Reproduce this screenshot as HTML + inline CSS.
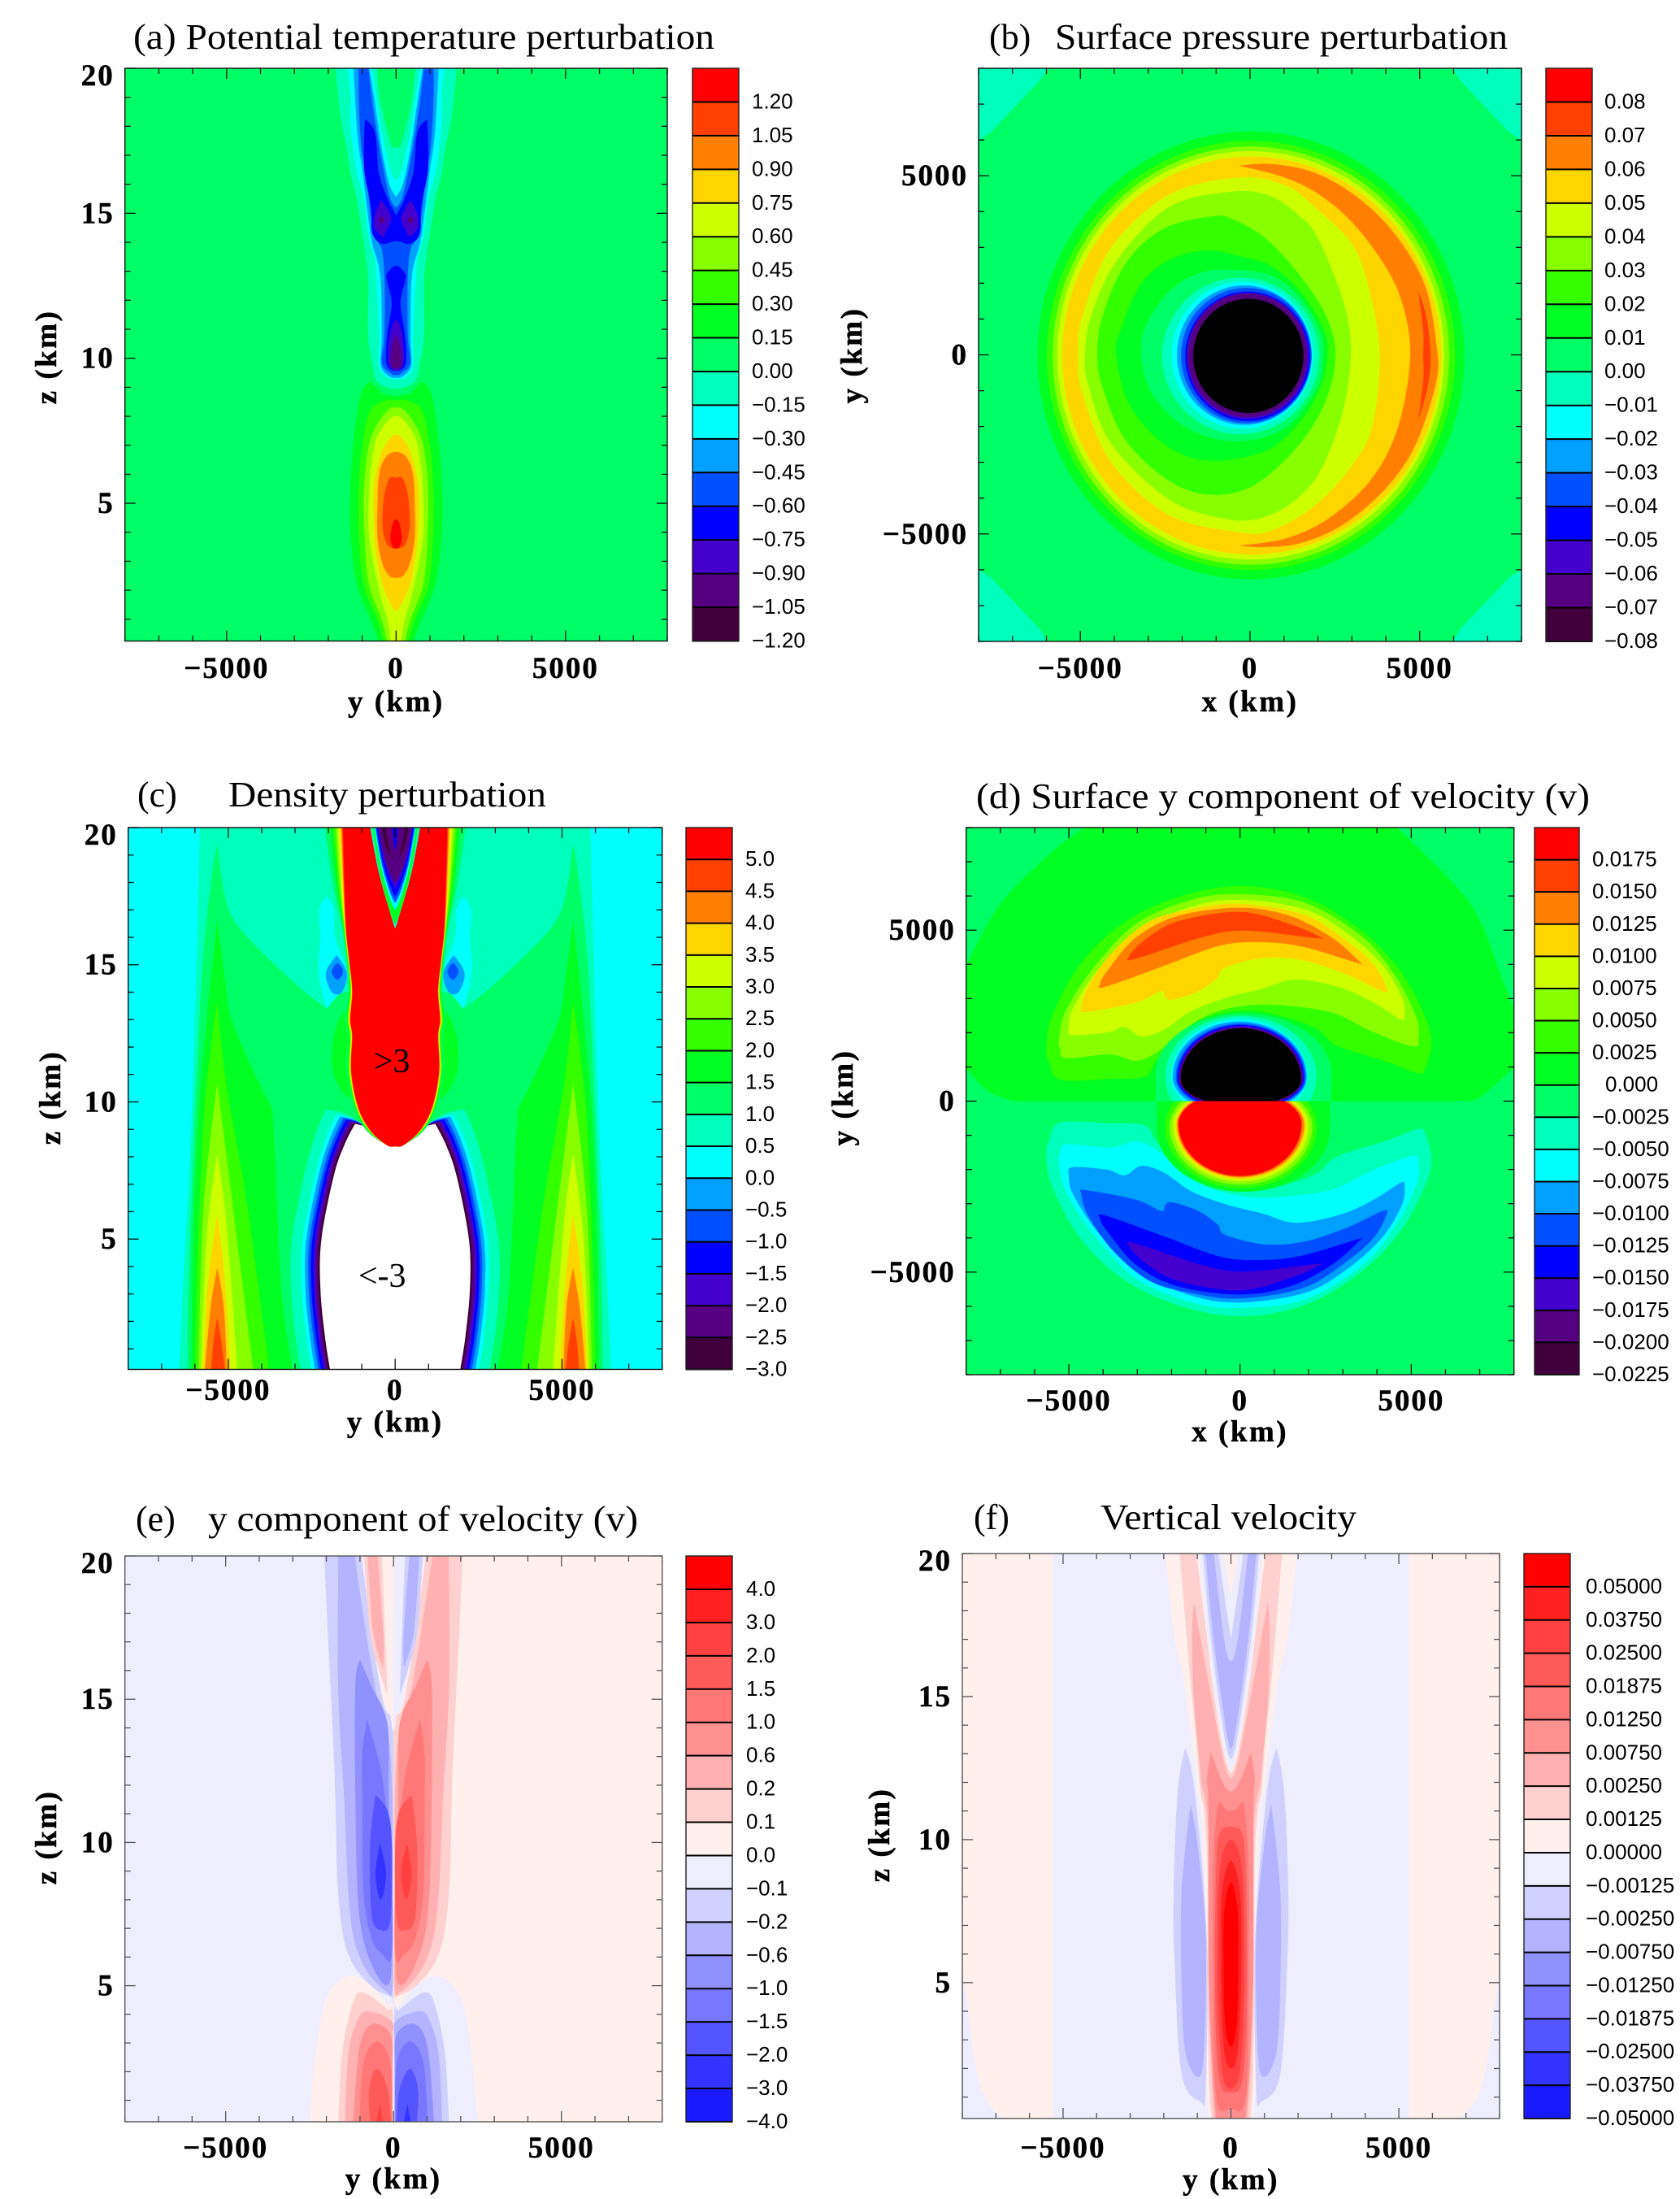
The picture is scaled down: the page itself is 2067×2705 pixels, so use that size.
<!DOCTYPE html>
<html lang="en">
<head>
<meta charset="utf-8">
<title>Contour panels</title>
<style>
html,body{margin:0;padding:0;background:#fff}
svg{display:block}
.ttl{font-family:"Liberation Serif",serif;font-size:44px;fill:#000}
.tick{font-family:"Liberation Serif",serif;font-weight:bold;font-size:37px;letter-spacing:2px;fill:#000;stroke:#000;stroke-width:.5px}
.axt{font-family:"Liberation Serif",serif;font-weight:bold;font-size:37px;letter-spacing:2.5px;fill:#000;stroke:#000;stroke-width:.5px}
.cbl{font-family:"Liberation Sans",sans-serif;font-size:26px;fill:#000}
.note{font-family:"Liberation Serif",serif;font-size:42px;fill:#000}
</style>
</head>
<body>
<svg id="fig" xmlns="http://www.w3.org/2000/svg" width="2067" height="2705" viewBox="0 0 2067 2705">
<rect width="2067" height="2705" fill="#fff"/>
<defs id="defs"></defs>
<g id="marks"></g>
<text class="ttl" x="164" y="60" textLength="715" lengthAdjust="spacingAndGlyphs">(a) Potential temperature perturbation</text>
<text class="ttl" x="1217" y="60">(b)</text>
<text class="ttl" x="1298" y="60" textLength="557" lengthAdjust="spacingAndGlyphs">Surface pressure perturbation</text>
<text class="ttl" x="169" y="992">(c)</text>
<text class="ttl" x="281" y="992" textLength="391" lengthAdjust="spacingAndGlyphs">Density perturbation</text>
<text class="ttl" x="1201" y="994" textLength="755" lengthAdjust="spacingAndGlyphs">(d) Surface y component of velocity (v)</text>
<text class="ttl" x="167" y="1883">(e)</text>
<text class="ttl" x="256" y="1883" textLength="529" lengthAdjust="spacingAndGlyphs">y component of velocity (v)</text>
<text class="ttl" x="1198" y="1881">(f)</text>
<text class="ttl" x="1354" y="1881" textLength="315" lengthAdjust="spacingAndGlyphs">Vertical velocity</text>
</svg>
<script>
// ---------- colour levels (index 0 = top of colour bar) ----------
const rainbowLevels=['#ff0000','#ff4000','#ff8000','#ffd500','#ccff00','#88ff00','#33ff00','#00ff22','#00ff66','#00ffbb','#00ffff','#00a0ff','#0050ff','#0000ff','#4400cc','#550080','#40003c','#000000','#ffffff'];
const redBlueLevels=['#ff0000','#ff2020','#ff4040','#ff5a5a','#ff7777','#ff9090','#ffb0b0','#ffd0d0','#fff0ee','#eeeeff','#d0d0ff','#b3b3ff','#9090ff','#7777ff','#5555ff','#3333ff','#1a1aff'];

// ---------- colour bar labels ----------
const labelsA=['1.20','1.05','0.90','0.75','0.60','0.45','0.30','0.15','0.00','−0.15','−0.30','−0.45','−0.60','−0.75','−0.90','−1.05','−1.20'];
const labelsB=['0.08','0.07','0.06','0.05','0.04','0.03','0.02','0.01','0.00','−0.01','−0.02','−0.03','−0.04','−0.05','−0.06','−0.07','−0.08'];
const labelsC=['5.0','4.5','4.0','3.5','3.0','2.5','2.0','1.5','1.0','0.5','0.0','−0.5','−1.0','−1.5','−2.0','−2.5','−3.0'];
const labelsD=['0.0175','0.0150','0.0125','0.0100','0.0075','0.0050','0.0025','0.000','−0.0025','−0.0050','−0.0075','−0.0100','−0.0125','−0.0150','−0.0175','−0.0200','−0.0225'];
const labelsE=['4.0','3.0','2.0','1.5','1.0','0.6','0.2','0.1','0.0','−0.1','−0.2','−0.6','−1.0','−1.5','−2.0','−3.0','−4.0'];
const labelsF=['0.05000','0.03750','0.02500','0.01875','0.01250','0.00750','0.00250','0.00125','0.00000','−0.00125','−0.00250','−0.00750','−0.01250','−0.01875','−0.02500','−0.03750','−0.05000'];

// ---------- axis ticks ----------
const horizontalMajorTicks=[-5000,0,5000];
const horizontalMinorTicks=[-8000,-7000,-6000,-4000,-3000,-2000,-1000,1000,2000,3000,4000,6000,7000,8000];
const heightMajorTicks=[5,10,15,20];
const heightMinorTicks=[1,2,3,4,6,7,8,9,11,12,13,14,16,17,18,19];

// ---------- filled contours, in data units. [mode, level, points]; point = [horizontal km, vertical km, corner?]
// m: half outline mirrored about 0; t: closed outline + mirror twin; c: closed outline; a: antisymmetric pair
const contoursA=[
['m',7,[[0,8.7],[400,8.78],[536,8.95],[780,9.2,1],[1056,8.7],[1260,7.06],[1355,5.45],[1340,3.84],[1165,2.23],[740,.95],[470,.1],[0,.1]]],
['m',6,[[0,8.55],[300,8.55],[760,8.2],[1000,7],[1100,5.5],[1090,3.8],[960,2.2],[560,1],[340,.1],[0,.1]]],
['m',5,[[0,8.3],[200,8.25],[520,7.8],[800,7],[945,5.5],[930,3.8],[800,2.2],[430,1],[240,.1],[0,.1]]],
['m',4,[[0,8],[150,7.95],[400,7.6],[640,7],[790,5.5],[790,3.8],[500,2],[260,1],[130,.1],[0,.1]]],
['m',3,[[0,7.38],[270,7.1],[500,6.5],[660,5.5],[640,3.8],[430,2.3],[150,1.5],[0,1.27,1]]],
['m',2,[[0,6.77],[300,6.6],[500,6],[550,5],[550,3.8],[400,2.9],[200,2.5],[0,2.43]]],
['m',1,[[0,5.88],[200,5.85],[360,5.2],[400,4.2],[280,3.6],[100,3.45],[0,3.44]]],
['m',0,[[0,4.45],[100,4.3],[170,3.8],[100,3.5],[0,3.44]]],
['m',9,[[0,8.95],[544,9.19],[704,9.84],[824,10.78],[824,12.64],[904,13.58],[1024,14.51],[1184,15.63],[1344,16.38],[1464,17.31],[1624,18.24],[1840,20.5],[600,20.5],[480,19],[300,18],[130,17.27,1],[0,17.27]]],
['m',10,[[0,9.28],[304,9.37],[504,9.75],[504,10.78],[584,12.64],[624,13.39],[824,14.3],[944,15.44],[1184,16.56],[1344,18.06],[1344,19.18],[1504,20.5],[780,20.5],[600,19.2],[420,17.8],[250,16.9],[120,16.35],[0,16.14,1]]],
['m',11,[[0,9.33],[184,9.37],[448,9.75],[424,10.78],[464,12.83],[704,13.95],[824,14.88],[984,16.38],[1144,17.78],[1280,20.5],[856,20.5],[650,19],[420,17.2],[200,16],[0,15.58,1]]],
['m',12,[[0,9.42],[144,9.47],[424,9.84],[344,10.78],[344,12.83],[424,13.76],[544,14.04],[744,14.88],[864,16.19],[1024,17.31],[1104,19],[1096,20.5],[856,20.5],[700,18.8],[480,17.2],[200,15.6],[0,15.2,1]]],
['m',13,[[0,14.04],[424,13.95],[704,14.32],[744,15.26],[944,16.56],[920,18.24,1],[624,17.78],[504,16.38],[224,15.44],[0,14.93,1]]],
['m',13,[[0,9.56],[280,9.8],[264,10.78],[128,11.9],[264,12.64],[264,12.92],[0,13.2]]],
['t',14,[[424,15.45,1],[620,15],[640,14.5],[400,14.2],[290,14.4],[144,14.85]]],
['t',15,[[424,14.92,1],[530,14.77,1],[424,14.62,1],[318,14.77,1]]],
['m',14,[[0,11.33],[184,10.78],[224,9.84],[0,9.56]]],
['m',15,[[0,10.78],[144,10.2],[144,9.75],[0,9.65]]]
];

const contoursB=[
['p',8,[[-5900,8100],[5900,8100],[6200,7650],[7650,6200],[8100,5950],[8100,-5950],[7650,-6200],[6200,-7650],[5900,-8100],[-5900,-8100],[-6200,-7650],[-7650,-6200],[-8100,-5950],[-8100,5950],[-7650,6200],[-6200,7650]]],
['e',7,25,-15,6295,6255],['e',6,28,-15,6018,5995],['e',5,25,-22,5845,5842],['e',4,20,-15,5705,5705],['e',3,47,-20,5588,5560],
['c',2,[[-325,5275,1],[615,5330],[1900,5085],[3180,4390],[4290,3345],[5150,1955],[5490,300],[5490,-740],[4890,-2480],[4035,-3690],[2750,-4735],[1470,-5260],[360,-5370],[-325,-5320,1],[1040,-5130],[2325,-4560],[3610,-3430],[4380,-1955],[4720,0],[4460,1520],[3865,2650],[2925,3780],[1900,4560],[870,5000]]],
['c',1,[[4960,1765,1],[5190,1085],[5320,0],[5230,-910],[4960,-1825,1],[5105,-700],[5105,0],[5105,650]]],
['c',4,[[-5070,0],[-4940,1085],[-4090,3000],[-2380,4475],[-325,4950],[1040,4735],[1900,4130],[3010,3085],[3520,1780],[3820,0],[3610,-1955],[3010,-3085],[1900,-4215],[615,-4910],[-325,-4950],[-2380,-4475],[-4090,-3000],[-4940,-1085]]],
['c',5,[[-4860,0],[-4685,1085],[-3915,2650],[-2380,4130],[-500,4560],[615,4430],[1470,3870],[1900,3430],[2410,2390],[2840,1170],[2970,0],[2750,-1520],[2155,-3085],[1470,-3950],[445,-4520],[-670,-4590],[-2380,-4040],[-4090,-2480],[-4770,-825]]],
['c',6,[[-4500,0],[-4345,1085],[-3660,2560],[-2550,3520],[-1095,3870],[-500,3780],[445,3260],[1470,2215],[2240,1085],[2520,0],[2240,-1260],[1470,-2480],[190,-3600],[-1095,-3910],[-2380,-3520],[-3660,-2390],[-4345,-910]]],
['c',7,[[-3940,0],[-3830,650],[-3230,1955],[-2380,2650],[-1265,2910],[-240,2740],[615,2480],[1470,1780],[2155,740],[2280,0],[2070,-910],[1470,-1870],[445,-2690],[-1265,-2950],[-2550,-2480],[-3575,-1350]]],
['c',8,[[-3205,0],[-3060,825],[-2380,1780],[-1435,2300],[-410,2370],[615,2215],[1470,1610],[2070,650],[2155,0],[1985,-910],[1040,-2040],[-410,-2415],[-1865,-2040],[-2890,-1085]]],
['e',9,-280,-30,2310,2185],['e',10,-225,-10,2085,2050],['e',11,-170,-8,1985,1948],['e',12,-110,-20,1925,1890],['e',13,-70,-40,1840,1808],['e',14,-70,-30,1800,1765],['e',15,-70,-15,1755,1725],['e',17,-50,-30,1625,1595]
];

// density panel parts
const densitySpreadRows=[[9.75,1090,.25],[11.07,1310,.25],[12.4,1280,.25],[13,1340,.3],[14.03,1280,.22],[15.02,1360,.15],[16.3,1470,.2],[18,1520,.6],[20.5,1570,1]];
const densityBands=[[8,590],[7,430],[6,320],[5,240],[4,175],[3,110],[2,60],[1,30],[0,0]];
const densityNotch=[[800,20.5],[750,20],[480,18.3],[80,16.6],[0,16.33,1]];
const densityHollow=[[0,8.4],[240,8.42],[720,8.93],[900,9.1],[1200,9.2,1],[1520,8.44],[1840,7.3],[2210,5],[2240,3.2],[2110,1.5],[1950,.25],[1900,.1],[0,.1]];
const densityHaloSpread=[[9,880],[10,560],[11,450],[12,350],[13,270],[14,190],[15,130],[16,60],[18,0]];
const densityNotchLevels=[[7,16.5,720],[10,17,670],[12,17.25,640],[13,17.5,610],[14,17.8,580],[15,18,550],[16,18.7,470]];
const contoursC1=[
['m',9,[[0,20.5],[5840,20.5],[6080,10],[6370,3],[6480,.1],[0,.1]]],
['m',8,[[0,14],[1500,14],[2050,13.4,1],[3040,14.36],[4640,16.3],[5100,17.5],[5330,19.42,1],[5520,17.98],[5790,14.7],[6050,8],[6200,3],[6220,.1],[0,.1]]],
['t',7,[[6110,.1],[6050,5],[5900,9.5],[5650,13],[5330,16.63,1],[5100,14.5],[4900,13],[4200,11],[3680,9.75,1],[3600,8],[3400,3],[3050,.1]]],
['t',6,[[6000,.1],[5900,5],[5700,10],[5330,13.67,1],[5100,11],[4900,9.5],[4400,6],[3760,.1]]],
['t',5,[[5890,.1],[5750,6],[5330,10.66,1],[5050,8],[4240,.1]]],
['t',4,[[5820,.1],[5650,5],[5330,8.08,1],[5050,5.5],[4720,.1]]],
['t',3,[[5760,.1],[5600,3.5],[5330,5.89,1],[5100,3.5],[4930,.1]]],
['t',2,[[5710,.1],[5530,2.5],[5330,3.95,1],[5130,2.5],[5040,.1]]],
['t',1,[[5520,.1],[5450,1.2],[5330,2.14,1],[5200,1.2],[5090,.1]]],
['t',10,[[1500,14.3],[2050,13.4,1],[2240,14.3],[2300,15],[2240,16],[2280,17],[2050,17.5,1],[1830,17],[1800,16],[1500,15]]],
['t',11,[[1440,14.7],[1750,15.35,1],[2080,14.7],[1900,14],[1600,14]]],
['t',12,[[1730,15.05],[1900,14.75],[1730,14.45],[1560,14.75]]],
['t',7,[[1300,10.2],[1840,11],[1840,12.4],[1500,13.3],[1300,12.6]]]
];
const contoursC3=[
['m',15,[[0,18.6],[240,19.6],[330,20.5],[0,20.5]]],
['m',13,[[0,19.2],[120,20.5],[0,20.5]]]
];

const contoursD1=[
['c',7,[[-4380,8100,1],[4410,8100,1],[5000,7600],[6770,5700],[7700,3460],[8100,2400,1],[8100,1080,1],[7080,160],[6610,0,1],[-6580,0,1],[-7360,290],[-8100,1080,1],[-8100,3720,1],[-7050,5700],[-5480,7300]]]
];
// lobes: [upper level, lower level, points in the upper half; the lower half reflects them]
const lobesD=[
[6,9,[[-5657,1536],[-5494,2487],[-4676,3990],[-3450,5180],[-1815,5970],[0,6290],[1864,5970],[3500,5020],[4725,3750],[5460,2330],[5584,1615],[5420,982],[5215,808],[4316,1140],[2845,1615],[2270,2090],[1455,2410],[230,2645],[-1080,2410],[-1900,1850],[-2470,1140],[-2800,705],[-3860,650],[-5250,625],[-5575,1140]]],
[5,10,[[-5290,1775],[-5085,2645],[-4270,3910],[-3040,5180],[-1406,5890],[0,6050],[1864,5810],[3500,4860],[4480,3750],[5134,2490],[5215,1853],[5052,1600],[3908,2010],[2763,2566],[1620,2764],[474,2820],[-589,2645],[-1406,2250],[-2387,1457],[-3041,1180],[-3777,1362],[-5085,1260],[-5250,1536]]],
[4,11,[[-5003,2170],[-4840,2800],[-4022,3990],[-2878,5020],[-1406,5695],[0,5890],[1864,5615],[3090,4940],[4153,3990],[4725,3040],[4807,2490],[4684,2390],[3908,2880],[2927,3320],[1620,3556],[638,3280],[-343,3040],[-1406,2645],[-2224,2090],[-2878,1893],[-3370,2170],[-3860,2010],[-4880,1930]]],
[3,12,[[-4635,2725],[-4430,3358],[-3695,4390],[-2632,5260],[-1406,5615],[0,5775],[1864,5457],[3090,4705],[3908,3990],[4275,3318],[4153,3215],[3090,3715],[1864,4110],[720,4190],[-425,3912],[-670,3596],[-1243,3200],[-1978,2962],[-2183,3041],[-2305,3215],[-3041,2883],[-4513,2605]]],
[2,13,[[-4088,3437],[-3859,3833],[-3041,4784],[-1815,5417],[0,5655],[1455,5417],[2681,4784],[3499,4071],[3458,4031],[1864,4506],[638,4649],[-589,4546],[-2224,3952],[-3940,3342]]],
[1,14,[[-3245,4229],[-2796,4704],[-1815,5259],[0,5536],[1455,5180],[2338,4800],[2191,4768],[229,4982],[-997,4823],[-3041,4166]]]
];
// half discs at y = 0: [level, centre, half-width, height, direction, pinch at the base]
const discsD=[
[8,100,2575,2565,1,.15],[9,25,2205,2490,1,.5],[10,-20,1990,2400,1,.7],[11,-10,1960,2330,1,.8],[12,20,1900,2270,1,.85],[13,20,1850,2230,1,.9],[14,25,1820,2190,1,.95],[15,25,1795,2160,1,.95],[17,25,1760,2130,1,1],
[7,100,2530,2650,-1,.1],[6,25,2210,2550,-1,.6],[5,25,2085,2445,-1,.7],[4,25,1985,2350,-1,.75],[3,20,1900,2270,-1,.8],[2,15,1860,2230,-1,.82],[0,0,1800,2190,-1,.85]
];

const contoursE=[
['a',10,[[30,4.6],[150,4.65],[730,5.05],[1370,6.17],[1650,8.25],[1735,11.66],[1800,13.57],[1960,17.4],[2082,20.5],[1008,20.5],[670,17.4],[307,14.9],[105,14.43],[8,14.1],[8,4.6]]],
['a',11,[[30,5],[220,4.8],[890,5.7],[1290,7.45],[1476,11.66],[1654,15.48],[1638,20.5],[1218,20.5],[831,17.4],[427,14.7],[145,13.57],[40,11.66],[30,8]]],
['a',12,[[95,5.2],[570,5.53],[1020,7.45],[1138,11.66],[1138,15.48],[993,16.36,1],[670,15.48],[185,14.14],[145,11.66],[95,8]]],
['a',13,[[50,6.1],[330,6.1],[650,6.65],[890,8.25],[928,11.66],[928,13.1],[790,14.32,1],[428,12.8],[266,11.66],[80,9.5]]],
['a',14,[[95,7.3],[380,6.94],[650,7.45],[700,9.85],[540,11.65,1],[175,11.1],[48,9.85]]],
['a',15,[[220,8.9],[380,8],[540,8.9],[400,9.97,1]]],
['a',8,[[0,.1],[2510,.1],[2320,2.65],[2000,4.57],[1370,5.32],[730,5.05],[175,4.33],[0,4.1]]],
['a',7,[[20,.1],[1650,.1],[1530,2.65],[1210,4.4],[890,4.76],[175,4.17],[20,3.93]]],
['a',6,[[30,.1],[1450,.1],[1340,2.65],[1050,3.85],[730,4.1],[65,3.76],[30,3]]],
['a',5,[[40,.1],[1210,.1],[1020,2.8],[650,3.65],[95,3.3],[50,2]]],
['a',4,[[55,.1],[1020,.1],[890,2.3],[490,3.05],[95,2.3]]],
['a',3,[[80,.1],[680,.1],[730,1.37],[490,2.1],[175,1.37]]],
['a',2,[[290,.1],[540,.1],[410,.88,1]]],
['a',8,[[0,14.3],[105,14.48],[300,15],[640,17.4],[976,20.5],[0,20.5]]],
['a',7,[[363,20.5],[896,20.5],[710,17.4],[420,16],[186,15.15,1],[240,17]]],
['a',6,[[508,20.5],[790,20.5],[613,17.4],[306,16.1,1],[306,17.4]]]
];

const contoursF=[
['t',8,[[5300,20.5,1],[8100,20.5,1],[8100,8],[7800,3.75],[7400,1.16],[6600,.1,1],[5300,.1,1]]],
['m',8,[[0,.1],[640,.1],[720,1.5],[760,5],[770,8],[880,11],[985,11.7],[1073,12.6],[1396,15.45],[1720,17.34],[2000,20.5],[1000,20.5],[770,17.8],[530,15.45],[200,13.1],[0,12.4,1]]],
['t',10,[[1360,13.19,1],[1585,11.68],[1710,8.2],[1680,5.8],[1470,1.8],[912,.85],[750,1.3],[720,6.6],[1075,11.68]]],
['t',11,[[1200,11.23,1],[1470,8.2],[1470,5],[1360,2.6],[990,1.7],[800,2.6],[750,6.6],[990,9.8]]],
['m',7,[[0,.1],[560,.1],[650,1.5],[700,5],[700,9],[800,11],[912,11.7],[1033,13.57],[1235,15.9],[1557,20.5],[1090,20.5],[790,17.8],[549,15.45],[226,13.1],[0,12.3,1]]],
['m',6,[[0,.1],[480,.1],[580,2],[640,5],[640,9],[720,11],[880,12],[928,12.6],[1113,15],[1154,17.34],[1097,18.28,1],[952,17.34],[589,15],[185,12.6],[0,12.15,1]]],
['m',5,[[0,.1],[420,.1],[560,2],[660,5],[670,9],[670,11.4],[710,12.15],[590,13.05,1],[266,12.05],[0,11.68]]],
['m',4,[[0,.6],[360,.6],[500,2],[530,5],[530,9],[430,10.8],[350,11.3],[150,11.05],[0,11]]],
['m',3,[[0,1.17],[300,1.4],[440,3],[480,6],[420,9.5],[300,10.3],[0,10.45]]],
['m',2,[[0,1.3],[250,1.8],[380,4],[400,7],[300,9.2],[0,10]]],
['m',1,[[0,2],[200,2.6],[300,5],[280,8],[0,9.26]]],
['m',0,[[0,2.76],[170,3.5],[220,5.5],[200,7.5],[0,8.5]]],
['m',9,[[0,12.53,1],[185,13.1],[508,15.45],[750,17.8],[993,20.5],[0,20.5]]],
['m',10,[[0,12.8,1],[145,13.28],[428,15.45],[670,17.8],[872,20.5],[430,20.5],[250,19],[100,17.8],[0,17,1]]],
['m',11,[[0,13.14,1],[105,13.57],[347,15.45],[590,17.8],[790,20.5],[549,20.5],[347,18.3],[145,16.6],[0,16.23,1]]],
['m',8,[[0,18.47,1],[100,19.2],[270,20.5],[0,20.5]]]
];

// ---------- panel layout ----------
const panels=[
{id:'a',px:[153.7,821],py:[84,788.5],vr:[.25,20],heights:true,levels:rainbowLevels,labels:labelsA,bg:[[8]],cb:[852,909],cbl:925,xt:'y (km)',yt:'z (km)',xty:834,xtty:875,ytx:69,yty:439},
{id:'b',px:[1204,1872],py:[84,789],vr:[-8000,8000],heights:false,levels:rainbowLevels,labels:labelsB,bg:[[9]],cb:[1902,1959],cbl:1974,xt:'x (km)',yt:'y (km)',xty:834,xtty:875,ytx:1060,yty:437},
{id:'c',px:[157.7,814.7],py:[1018,1684.5],vr:[.25,20],heights:true,levels:rainbowLevels,labels:labelsC,bg:[[10]],cb:[844,901],cbl:917,xt:'y (km)',yt:'z (km)',xty:1722,xtty:1761,ytx:74,yty:1350},
{id:'d',px:[1188.7,1862.7],py:[1018,1691],vr:[-8000,8000],heights:false,levels:rainbowLevels,labels:labelsD,bg:[[8]],cb:[1888,1943],cbl:1959,xt:'x (km)',yt:'y (km)',xty:1735,xtty:1773,ytx:1049,yty:1350},
{id:'e',px:[153.7,814.7],py:[1914,2610],vr:[.25,20],heights:true,levels:redBlueLevels,labels:labelsE,bg:[[9],[8]],cb:[844,901],cbl:918,xt:'y (km)',yt:'z (km)',xty:2654,xtty:2692,ytx:69,yty:2260,grey:true},
{id:'f',px:[1184,1845],py:[1911,2606],vr:[.25,20],heights:true,levels:redBlueLevels,labels:labelsF,bg:[[9]],cb:[1875,1932],cbl:1951,xt:'y (km)',yt:'z (km)',xty:2654,xtty:2693,ytx:1094,yty:2257,grey:true}
];

// ---------- drawing ----------
const NS='http://www.w3.org/2000/svg';
const marks=document.getElementById('marks');
const defs=document.getElementById('defs');
function node(tag,parent,attrs,text){
  const n=document.createElementNS(NS,tag);
  for(const k in attrs)n.setAttribute(k,attrs[k]);
  if(text!==undefined)n.textContent=text;
  parent.appendChild(n);
  return n;
}
function smoothPath(p,straight){
  const n=p.length,k=1/6;
  let d='M'+p[0][0].toFixed(1)+' '+p[0][1].toFixed(1);
  for(let i=0;i<n;i++){
    const a=p[(i-1+n)%n],b=p[i],c=p[(i+1)%n],e=p[(i+2)%n];
    if(straight){d+='L'+c[0].toFixed(1)+' '+c[1].toFixed(1);continue;}
    const c1=b[2]?[b[0],b[1]]:[b[0]+(c[0]-a[0])*k,b[1]+(c[1]-a[1])*k];
    const c2=c[2]?[c[0],c[1]]:[c[0]-(e[0]-b[0])*k,c[1]-(e[1]-b[1])*k];
    d+='C'+c1[0].toFixed(1)+' '+c1[1].toFixed(1)+' '+c2[0].toFixed(1)+' '+c2[1].toFixed(1)+' '+c[0].toFixed(1)+' '+c[1].toFixed(1);
  }
  return d+'Z';
}
function scales(P){
  const sx=v=>P.px[0]+(v+8000)/16000*(P.px[1]-P.px[0]);
  const sy=v=>P.py[1]-(v-P.vr[0])/(P.vr[1]-P.vr[0])*(P.py[1]-P.py[0]);
  return {sx,sy};
}
function fillShape(g,P,level,pts,straight){
  const S=scales(P);
  const px=pts.map(q=>[S.sx(q[0]),S.sy(q[1]),q[2]||(P.heights&&(q[1]<=.1||q[1]>=20.5))]);
  const el=node('path',g,{d:smoothPath(px,straight),fill:P.levels[level]});
  
  
}
function mirrorHalf(pts){
  const back=pts.slice(1,-1).reverse().map(q=>[-q[0],q[1],q[2]]);
  return pts.concat(back);
}
function ellipsePoints(cx,cy,rx,ry){
  const out=[];
  for(let i=0;i<72;i++){const t=i/72*Math.PI*2;out.push([cx+rx*Math.cos(t),cy+ry*Math.sin(t)]);}
  return out;
}
function halfDiscPoints(cx,rx,ry,dir,neck){
  const out=[];
  for(let i=0;i<=60;i++){
    const t=i/60*Math.PI,u=Math.sin(t),side=Math.cos(t)>=0?1:-1;
    const w=u>=.3?Math.sqrt(Math.max(0,1-Math.pow((u-.3)/.7,2))):Math.sqrt(Math.max(0,1-Math.pow((.3-u)/.37*neck,2)));
    out.push([cx+side*rx*w,dir*ry*u]);
  }
  return out;
}
function drawContours(g,P,list){
  list.forEach(c=>{
    const mode=c[0],lev=c[1];
    if(mode==='m')fillShape(g,P,lev,mirrorHalf(c[2]));
    else if(mode==='t'){fillShape(g,P,lev,c[2]);fillShape(g,P,lev,c[2].map(q=>[-q[0],q[1],q[2]]));}
    else if(mode==='c')fillShape(g,P,lev,c[2]);
    else if(mode==='p')fillShape(g,P,lev,c[2],true);
    else if(mode==='a'){fillShape(g,P,lev,c[2].map(q=>[-q[0],q[1],q[2]]));fillShape(g,P,17-lev,c[2]);}
    else if(mode==='e')fillShape(g,P,lev,ellipsePoints(c[2],c[3],c[4],c[5]),true);
  });
}
function drawDensity(g,P){
  drawContours(g,P,contoursC1);
  densityHaloSpread.forEach(h=>{
    const off=h[1];
    const pts=densityHollow.map(q=>{
      const f=Math.min(1,q[0]/1200);
      const lift=q[1]>7?(q[1]-7)/2.2*off*.0006:0;
      return [q[0]+off*f,q[1]+lift,q[2]];
    });
    fillShape(g,P,h[0],mirrorHalf(pts));
  });
  densityBands.forEach(b=>{
    const off=b[1];
    const rows=densitySpreadRows.map(r=>[r[1]+off*r[2],r[0]]);
    const low=[[0,8.38],[240,8.42],[720+off*.2,8.93]];
    fillShape(g,P,b[0],mirrorHalf(low.concat(rows,densityNotch)));
  });
  densityNotchLevels.forEach(v=>{
    const tip=v[1],w=v[2],h=20-tip;
    fillShape(g,P,v[0],mirrorHalf([[0,tip,1],[w*.25,tip+h*.15],[w*.65,tip+h*.55],[w*1.02,20.5],[0,20.5]]));
  });
  drawContours(g,P,contoursC3);
}
function drawVelocitySurface(g,P){
  drawContours(g,P,contoursD1);
  lobesD.forEach(l=>{
    fillShape(g,P,l[0],l[2]);
    fillShape(g,P,l[1],l[2].map(q=>[q[0],-q[1],q[2]]));
  });
  discsD.forEach(h=>{fillShape(g,P,h[0],halfDiscPoints(h[1],h[2],h[3],h[4],h[5]),true);});
}
const painters={
  a:(g,P)=>drawContours(g,P,contoursA),
  b:(g,P)=>drawContours(g,P,contoursB),
  c:drawDensity,
  d:drawVelocitySurface,
  e:(g,P)=>drawContours(g,P,contoursE),
  f:(g,P)=>drawContours(g,P,contoursF)
};

panels.forEach(P=>{
  const S=scales(P);
  const W=P.px[1]-P.px[0],H=P.py[1]-P.py[0];
  const panel=node('g',marks,{});
  
  
  const cp=node('clipPath',defs,{id:'clip-'+P.id});
  node('rect',cp,{x:P.px[0],y:P.py[0],width:W,height:H});
  const field=node('g',panel,{'clip-path':'url(#clip-'+P.id+')'});
  
  
  // background level
  P.bg.forEach((b,i)=>{
    const half=P.bg.length>1;
    const r=node('rect',field,{x:half&&i?S.sx(0):P.px[0],y:P.py[0],width:half?W/2:W,height:H,fill:P.levels[b[0]]});
    
    
  });
  painters[P.id](field,P);

  // plot frame and ticks
  const col=P.grey?'#555':'#111';
  const frame=node('rect',panel,{x:P.px[0],y:P.py[0],width:W,height:H,fill:'none',stroke:col,'stroke-width':1.4});
  
  
  const tickGroup=node('g',panel,{stroke:col,'stroke-width':1.3});
  
  
  const hTick=(v,len)=>{
    node('line',tickGroup,{x1:S.sx(v),x2:S.sx(v),y1:P.py[1],y2:P.py[1]-len});
    node('line',tickGroup,{x1:S.sx(v),x2:S.sx(v),y1:P.py[0],y2:P.py[0]+len});
  };
  const vTick=(v,len)=>{
    node('line',tickGroup,{y1:S.sy(v),y2:S.sy(v),x1:P.px[0],x2:P.px[0]+len});
    node('line',tickGroup,{y1:S.sy(v),y2:S.sy(v),x1:P.px[1],x2:P.px[1]-len});
  };
  horizontalMinorTicks.forEach(v=>hTick(v,7));
  horizontalMajorTicks.forEach(v=>hTick(v,13));
  const vMinor=P.heights?heightMinorTicks:horizontalMinorTicks;
  const vMajor=P.heights?heightMajorTicks:horizontalMajorTicks;
  vMinor.forEach(v=>vTick(v,7));
  vMajor.forEach(v=>vTick(v,13));

  // tick labels
  horizontalMajorTicks.forEach(v=>{
    const t=node('text',panel,{class:'tick',x:S.sx(v),y:P.xty,'text-anchor':'middle'},String(v).replace('-','−'));
    
    
  });
  vMajor.forEach(v=>{
    const shift=v===20?9:0;
    const t=node('text',panel,{class:'tick',x:P.px[0]-13,y:S.sy(v)+12+shift,'text-anchor':'end'},String(v).replace('-','−'));
    
    
  });
  const xTitle=node('text',panel,{class:'axt',x:(P.px[0]+P.px[1])/2,y:P.xtty,'text-anchor':'middle'},P.xt);
  
  
  const yTitle=node('text',panel,{class:'axt',x:P.ytx,y:P.yty,'text-anchor':'middle',transform:'rotate(-90 '+P.ytx+' '+P.yty+')'},P.yt);
  
  

  // colour bar
  const bar=node('g',panel,{});
  
  
  const segH=H/P.labels.length;
  P.labels.forEach((lab,i)=>{
    const yy=P.py[0]+i*segH;
    const seg=node('rect',bar,{x:P.cb[0],y:yy,width:P.cb[1]-P.cb[0],height:segH+.5,fill:P.levels[i]});
    
    
  });
  P.labels.forEach((lab,i)=>{
    const yy=P.py[0]+(i+1)*segH;
    const sep=node('line',bar,{x1:P.cb[0],x2:P.cb[1],y1:yy,y2:yy,stroke:'#000','stroke-width':2});
    
    
    const indent=(P.id==='d'&&lab==='0.000')?16:0;
    const t=node('text',bar,{class:'cbl',x:P.cbl+indent,y:yy+8},lab);
    
    
  });
  const bf=node('rect',bar,{x:P.cb[0],y:P.py[0],width:P.cb[1]-P.cb[0],height:H,fill:'none',stroke:'#222','stroke-width':1.4});
  
  

  // annotations in the density panel
  if(P.id==='c'){
    const hi=node('text',panel,{class:'note',x:S.sx(-100),y:S.sy(11.5)+14,'text-anchor':'middle'},'>3');
    
    
    const lo=node('text',panel,{class:'note',x:S.sx(-390),y:S.sy(3.67)+14,'text-anchor':'middle'},'<-3');
    
    
  }
});
</script>
</body>
</html>
